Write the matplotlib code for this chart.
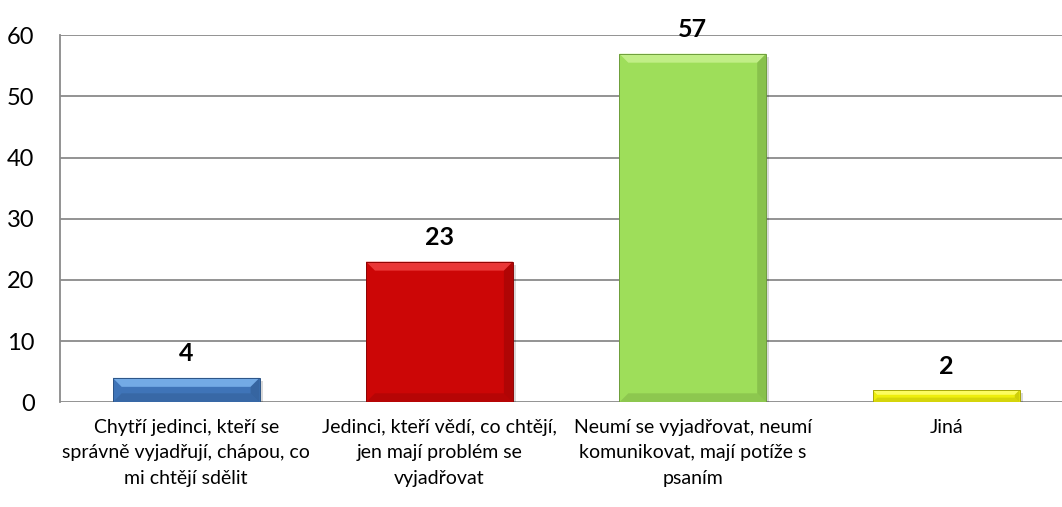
import matplotlib
matplotlib.use("Agg")
import matplotlib.pyplot as plt
from matplotlib.patches import Polygon
import numpy as np

categories = [
    "Chytří jedinci, kteří se\nsprávně vyjadřují, chápou, co\nmi chtějí sdělit",
    "Jedinci, kteří vědí, co chtějí,\njen mají problém se\nvyjadřovat",
    "Neumí se vyjadřovat, neumí\nkomunikovat, mají potíže s\npsaním",
    "Jiná",
]
values = [4, 23, 57, 2]
colors = ["#3F74B8", "#CC0606", "#9EDE5A", "#EEEE0C"]
light = ["#7DB4EE", "#F04040", "#C8F290", "#FFFF70"]
dark = ["#2C5486", "#8E0404", "#6E9E3C", "#A8A808"]
yticks = [0, 10, 20, 30, 40, 50, 60]

plt.rcParams['font.family'] = ['Lato', 'DejaVu Sans']

W, H, DPI = 1062, 507, 100
fig = plt.figure(figsize=(W / DPI, H / DPI), dpi=DPI)
ax_left, ax_bottom = 59.5 / W, 1 - 402.3 / H
ax_w, ax_h = 4 * 253.3 / W, (402.3 - 35.3) / H
ax = fig.add_axes([ax_left, ax_bottom, ax_w, ax_h])

x = np.arange(len(values))
bw = 0.58
ax.set_xlim(-0.5, len(values) - 0.5)
ax.set_ylim(0, 60)

# pixel per data unit
ppx = ax_w * W / (len(values))
ppy = ax_h * H / 60.0

# shadows
for xi, v in zip(x, values):
    sx = 3 / ppx
    sy = 3 / ppy
    ax.bar(xi + sx, v, width=bw, bottom=-sy, color="#000000", alpha=0.15,
           zorder=2.5, linewidth=0)

bars = ax.bar(x, values, width=bw, color=colors, zorder=3, linewidth=0)

bevel = 9.0
for b, c, lc, dc in zip(bars, colors, light, dark):
    x0, y0 = b.get_x(), b.get_y()
    w, h = b.get_width(), b.get_height()
    bp = min(bevel, h * ppy / 2.6)
    dx, dy = bp / ppx, bp / ppy
    x1, y1 = x0 + w, y0 + h
    # top bevel
    ax.add_patch(Polygon([[x0, y1], [x1, y1], [x1 - dx, y1 - dy], [x0 + dx, y1 - dy]],
                         closed=True, facecolor=lc, edgecolor="none", zorder=4, alpha=0.85))
    # right bevel
    ax.add_patch(Polygon([[x1, y0], [x1, y1], [x1 - dx, y1 - dy], [x1 - dx, y0 + dy]],
                         closed=True, facecolor=dc, edgecolor="none", zorder=4, alpha=0.45))
    # bottom bevel
    ax.add_patch(Polygon([[x0, y0], [x1, y0], [x1 - dx, y0 + dy], [x0 + dx, y0 + dy]],
                         closed=True, facecolor=dc, edgecolor="none", zorder=4, alpha=0.35))
    ax.add_patch(plt.Rectangle((x0, y0), w, h, facecolor="none", edgecolor=dc,
                               linewidth=0.7, zorder=5))

for xi, v in zip(x, values):
    ax.annotate(str(v), (xi, v), xytext=(0, 9), textcoords="offset points",
                ha="center", va="bottom", fontsize=18, fontweight="bold",
                color="black", zorder=6)

ax.set_yticks(yticks)
ax.set_yticklabels([str(t) for t in yticks], fontsize=17)
ax.set_xticks(x)
ax.set_xticklabels(categories, fontsize=14, linespacing=1.6)
ax.tick_params(axis="both", length=0)
ax.tick_params(axis="y", pad=18)
ax.tick_params(axis="x", pad=12)

ax.yaxis.grid(True, color="#8A8A8A", linewidth=1.3, zorder=0)
ax.set_axisbelow(True)
for s in ["top", "right", "bottom"]:
    ax.spines[s].set_visible(False)
ax.spines["left"].set_color("#8A8A8A")
ax.spines["left"].set_linewidth(1.3)

fig.savefig("out.png", dpi=DPI)
